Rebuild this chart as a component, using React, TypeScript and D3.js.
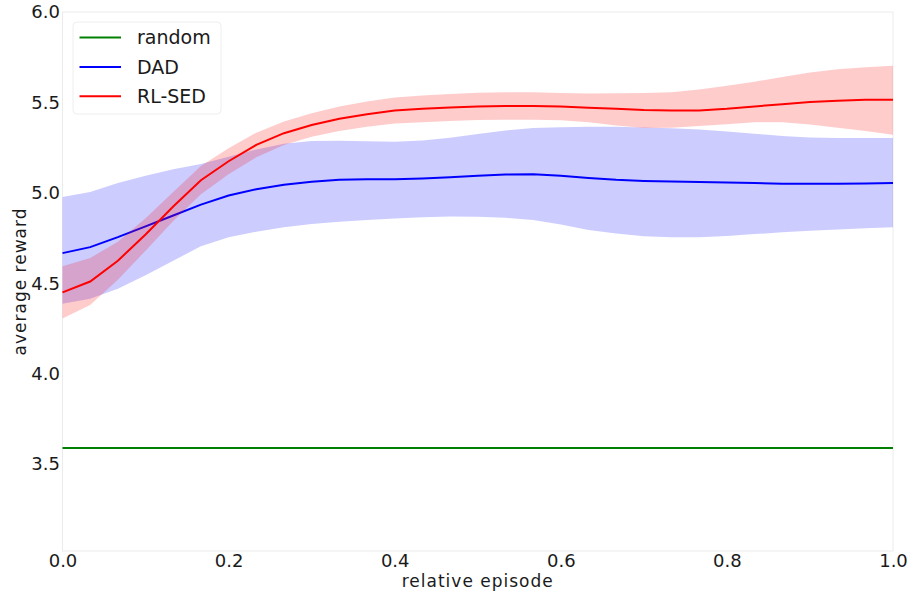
import { useEffect, useRef } from 'react';
import * as d3 from 'd3';

// relative episode, 31 samples
const episodes = d3.range(31).map((i) => i / 30);

const randomReward = 3.59;

const dadMean = [
  4.667, 4.7, 4.755, 4.815, 4.875, 4.935, 4.985, 5.02, 5.045, 5.062, 5.072,
  5.075, 5.076, 5.08, 5.087, 5.095, 5.102, 5.103, 5.095, 5.082, 5.072,
  5.066, 5.063, 5.06, 5.057, 5.054, 5.051, 5.05, 5.05, 5.052, 5.055,
];
const dadUpper = [
  4.977, 5.005, 5.055, 5.095, 5.13, 5.16, 5.2, 5.24, 5.272, 5.287, 5.288,
  5.285, 5.283, 5.29, 5.305, 5.325, 5.345, 5.358, 5.363, 5.365, 5.365,
  5.362, 5.357, 5.35, 5.34, 5.327, 5.315, 5.306, 5.304, 5.304, 5.304,
];
const dadLower = [
  4.387, 4.415, 4.47, 4.545, 4.625, 4.705, 4.755, 4.785, 4.81, 4.828, 4.84,
  4.85, 4.858, 4.865, 4.87, 4.868, 4.862, 4.85, 4.825, 4.795, 4.775,
  4.76, 4.755, 4.755, 4.762, 4.772, 4.782, 4.79, 4.798, 4.805, 4.81,
];

const sedMean = [
  4.45, 4.51, 4.625, 4.77, 4.925, 5.07, 5.175, 5.265, 5.33, 5.375, 5.41,
  5.435, 5.455, 5.465, 5.472, 5.478, 5.48, 5.48, 5.477, 5.47, 5.465,
  5.458, 5.455, 5.456, 5.465, 5.478, 5.49, 5.502, 5.51, 5.515, 5.515,
];
const sedUpper = [
  4.595, 4.64, 4.73, 4.86, 5.005, 5.148, 5.247, 5.333, 5.395, 5.44, 5.478,
  5.505, 5.527, 5.539, 5.547, 5.553, 5.556, 5.556, 5.552, 5.55, 5.551,
  5.552, 5.557, 5.572, 5.592, 5.615, 5.64, 5.665, 5.683, 5.695, 5.703,
];
const sedLower = [
  4.305, 4.38, 4.52, 4.68, 4.845, 4.992, 5.103, 5.197, 5.265, 5.31, 5.342,
  5.365, 5.383, 5.391, 5.397, 5.403, 5.404, 5.404, 5.402, 5.39, 5.372,
  5.358, 5.36, 5.37, 5.38, 5.39, 5.39, 5.378, 5.36, 5.342, 5.322,
];

const xTicks = [0, 0.2, 0.4, 0.6, 0.8, 1.0];
const yTicks = [3.5, 4.0, 4.5, 5.0, 5.5, 6.0];

const legendNames = ['random', 'DAD', 'RL-SED'];
const legendColors = ['green', 'blue', 'red'];

const width = 914;
const height = 599;
const margin = { top: 12, right: 21, bottom: 48, left: 62.5 };

function App() {
  const ref = useRef<SVGSVGElement>(null);

  useEffect(() => {
    const svg = d3.select(ref.current);
    svg.selectAll('*').remove();

    const innerWidth = width - margin.left - margin.right;
    const innerHeight = height - margin.top - margin.bottom;

    const x = d3.scaleLinear().domain([0, 1]).range([0, innerWidth]);
    const y = d3.scaleLinear().domain([3.02, 6.0]).range([innerHeight, 0]);

    const g = svg.append('g').attr('transform', `translate(${margin.left}, ${margin.top})`);

    g.append('rect')
      .attr('width', innerWidth)
      .attr('height', innerHeight)
      .attr('fill', 'none')
      .attr('stroke', '#ebebeb')
      .attr('stroke-width', 1);

    const band = (lo: number[], hi: number[]) =>
      d3.area<number>()
        .x((d) => x(d))
        .y0((_, i) => y(lo[i]))
        .y1((_, i) => y(hi[i]))(episodes);

    const line = (vals: number[]) =>
      d3.line<number>()
        .x((d) => x(d))
        .y((_, i) => y(vals[i]))(episodes);

    // random baseline
    g.append('line')
      .attr('x1', x(0))
      .attr('x2', x(1))
      .attr('y1', y(randomReward))
      .attr('y2', y(randomReward))
      .attr('stroke', 'green')
      .attr('stroke-width', 2);

    g.append('path').attr('d', band(dadLower, dadUpper)).attr('fill', 'blue').attr('fill-opacity', 0.2);
    g.append('path').attr('d', line(dadMean)).attr('fill', 'none').attr('stroke', 'blue').attr('stroke-width', 2);

    g.append('path').attr('d', band(sedLower, sedUpper)).attr('fill', 'red').attr('fill-opacity', 0.2);
    g.append('path').attr('d', line(sedMean)).attr('fill', 'none').attr('stroke', 'red').attr('stroke-width', 2);

    const xAxis = d3.axisBottom(x).tickValues(xTicks).tickFormat(d3.format('.1f')).tickSize(0).tickPadding(3);
    const yAxis = d3.axisLeft(y).tickValues(yTicks).tickFormat(d3.format('.1f')).tickSize(0).tickPadding(2.5);

    const gx = g.append('g').attr('transform', `translate(0, ${innerHeight})`).call(xAxis);
    const gy = g.append('g').call(yAxis);
    [gx, gy].forEach((ax) => {
      ax.select('.domain').remove();
      ax.selectAll('text')
        .attr('font-family', 'DejaVu Sans')
        .attr('font-size', 18)
        .attr('fill', '#1a1a1a');
    });

    g.append('text')
      .attr('text-anchor', 'middle')
      .attr('x', innerWidth / 2)
      .attr('y', innerHeight + 36)
      .attr('font-family', 'DejaVu Sans')
      .attr('font-size', 17)
      .attr('letter-spacing', 1)
      .attr('fill', '#1a1a1a')
      .text('relative episode');

    g.append('text')
      .attr('text-anchor', 'middle')
      .attr('transform', `translate(${26 - margin.left}, ${innerHeight / 2}) rotate(-90)`)
      .attr('font-family', 'DejaVu Sans')
      .attr('font-size', 17)
      .attr('letter-spacing', 1)
      .attr('fill', '#1a1a1a')
      .text('average reward');

    // legend
    const legend = g.append('g').attr('transform', 'translate(10.5, 10)');
    legend.append('rect')
      .attr('width', 148)
      .attr('height', 92)
      .attr('rx', 4)
      .attr('fill', 'white')
      .attr('fill-opacity', 0.8)
      .attr('stroke', '#eeeeee');

    legendNames.forEach((name, i) => {
      const yy = 15.5 + i * 29.4;
      legend.append('line')
        .attr('x1', 6.5)
        .attr('x2', 48)
        .attr('y1', yy)
        .attr('y2', yy)
        .attr('stroke', legendColors[i])
        .attr('stroke-width', 2);
      legend.append('text')
        .attr('x', 64)
        .attr('y', yy)
        .attr('dy', '0.35em')
        .attr('font-family', 'DejaVu Sans')
        .attr('font-size', 19)
        .attr('fill', '#1a1a1a')
        .text(name);
    });
  }, []);

  return (
    <svg
      ref={ref}
      width={width}
      height={height}
      style={{ position: 'absolute', left: 0, top: 0, background: 'white' }}
    />
  );
}

export default App;
